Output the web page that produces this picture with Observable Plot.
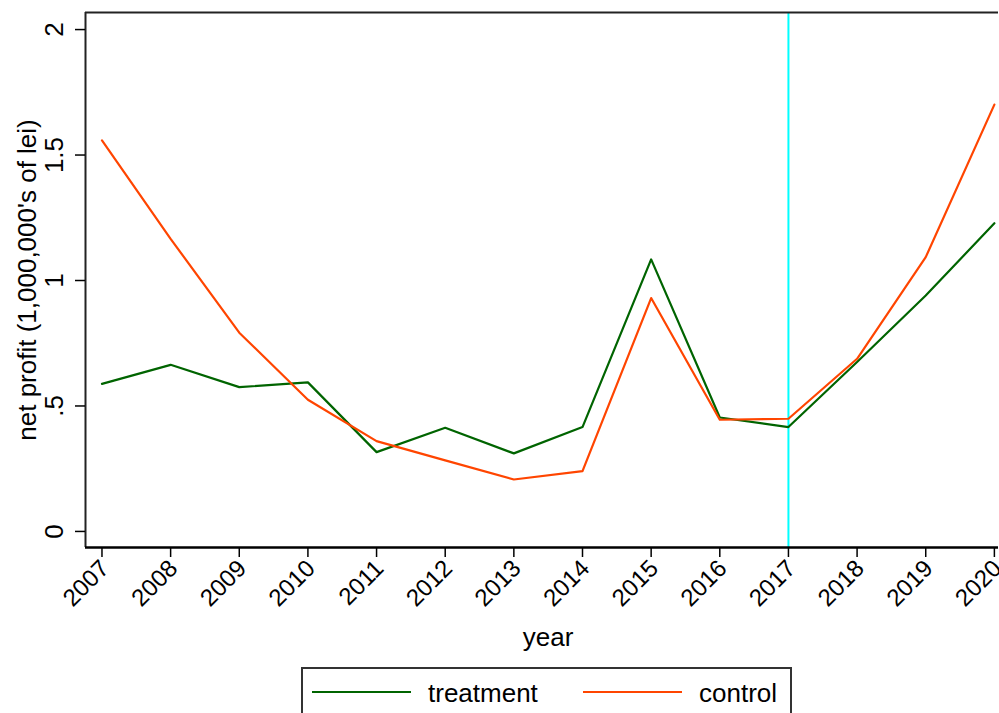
<!DOCTYPE html>
<html>
<head>
<meta charset="utf-8">
<script src="https://cdn.jsdelivr.net/npm/d3@7"></script>
<script src="https://cdn.jsdelivr.net/npm/@observablehq/plot@0.6"></script>
<style>
  html, body { margin: 0; padding: 0; background: #fff; overflow: hidden; }
  #wrap { position: relative; width: 999px; height: 713px; font-family: "Liberation Sans", Arial, sans-serif; }
  #legend { position: absolute; left: 301px; top: 667px; width: 491px; height: 60px; border: 2px solid #333; box-sizing: border-box; }
</style>
</head>
<body>
<div id="wrap"></div>
<script>
const years = [2007, 2008, 2009, 2010, 2011, 2012, 2013, 2014, 2015, 2016, 2017, 2018, 2019, 2020];
const treatment = [0.588, 0.664, 0.575, 0.594, 0.316, 0.413, 0.311, 0.416, 1.084, 0.454, 0.416, 0.675, 0.940, 1.228];
const control = [1.558, 1.166, 0.792, 0.525, 0.360, 0.283, 0.207, 0.240, 0.930, 0.445, 0.449, 0.688, 1.093, 1.701];
const seriesNames = ["treatment", "control"];
const seriesColors = ["#006400", "#ff4500"];
const yTicks = [0, 0.5, 1, 1.5, 2];
const yTickLabels = ["0", ".5", "1", "1.5", "2"];
const xTickLabels = years.map(String);
const treatmentYear = [2017];
const yTitle = "net profit (1,000,000's of lei)";
const xTitle = "year";

const rows = [];
years.forEach((yr, i) => {
  rows.push({year: yr, value: treatment[i], series: seriesNames[0]});
  rows.push({year: yr, value: control[i], series: seriesNames[1]});
});

const xDomain = [2006.76, 2020.06];
const yDomain = [-0.064, 2.068];
const font = "Liberation Sans, Arial, sans-serif";

const chart = Plot.plot({
  width: 999,
  height: 665,
  marginLeft: 85,
  marginRight: 1,
  marginTop: 12,
  marginBottom: 118,
  style: {fontFamily: font, background: "#fff", overflow: "visible"},
  x: {domain: xDomain, axis: null, label: null},
  y: {domain: yDomain, axis: null, label: null},
  color: {domain: seriesNames, range: seriesColors},
  marks: [
    Plot.ruleX(treatmentYear, {stroke: "#00ffff", strokeWidth: 2}),
    Plot.line(rows, {x: "year", y: "value", z: "series", stroke: "series", strokeWidth: 2.2}),
    Plot.ruleX([xDomain[0]], {stroke: "#222", strokeWidth: 2}),
    Plot.ruleY([yDomain[1]], {stroke: "#222", strokeWidth: 2}),
    Plot.ruleY([yDomain[0]], {stroke: "#000", strokeWidth: 2.5}),
    Plot.axisY({ticks: yTicks, tickSize: 10, tickFormat: () => "", label: null, stroke: "#000", strokeWidth: 1.5}),
    Plot.axisX({ticks: years, tickSize: 10, tickFormat: () => "", label: null, stroke: "#000", strokeWidth: 1.5}),
    Plot.text(yTicks, {y: d => d, text: (d, i) => yTickLabels[i], frameAnchor: "left", rotate: -90, textAnchor: "middle", lineAnchor: "middle", dx: -31, fontSize: 26, fill: "#000"}),
    Plot.text(years, {x: d => d, text: (d, i) => xTickLabels[i], frameAnchor: "bottom", rotate: -45, textAnchor: "end", lineAnchor: "middle", dx: 3, dy: 17, fontSize: 24, fill: "#000"}),
    Plot.text([yTitle], {text: d => d, frameAnchor: "left", rotate: -90, textAnchor: "middle", lineAnchor: "middle", dx: -58, fontSize: 26, fill: "#000"}),
    Plot.text([xTitle], {text: d => d, frameAnchor: "bottom", textAnchor: "middle", lineAnchor: "middle", dx: 6, dy: 90, fontSize: 26, fill: "#000"})
  ]
});

const wrap = document.getElementById("wrap");
wrap.appendChild(chart);

const legend = document.createElement("div");
legend.id = "legend";
const ns = "http://www.w3.org/2000/svg";
const lsvg = document.createElementNS(ns, "svg");
lsvg.setAttribute("width", "491");
lsvg.setAttribute("height", "60");
lsvg.style.position = "absolute";
lsvg.style.left = "-2px";
lsvg.style.top = "-2px";
const items = [
  {x1: 11, x2: 110, tx: 127},
  {x1: 282, x2: 381, tx: 398}
];
seriesNames.forEach((name, i) => {
  const it = items[i];
  const ln = document.createElementNS(ns, "line");
  ln.setAttribute("x1", it.x1); ln.setAttribute("x2", it.x2);
  ln.setAttribute("y1", 25); ln.setAttribute("y2", 25);
  ln.setAttribute("stroke", seriesColors[i]);
  ln.setAttribute("stroke-width", 2.2);
  lsvg.appendChild(ln);
  const tx = document.createElementNS(ns, "text");
  tx.setAttribute("x", it.tx); tx.setAttribute("y", 35);
  tx.setAttribute("font-size", 26);
  tx.setAttribute("font-family", font);
  tx.textContent = name;
  lsvg.appendChild(tx);
});
legend.appendChild(lsvg);
wrap.appendChild(legend);
</script>
</body>
</html>
